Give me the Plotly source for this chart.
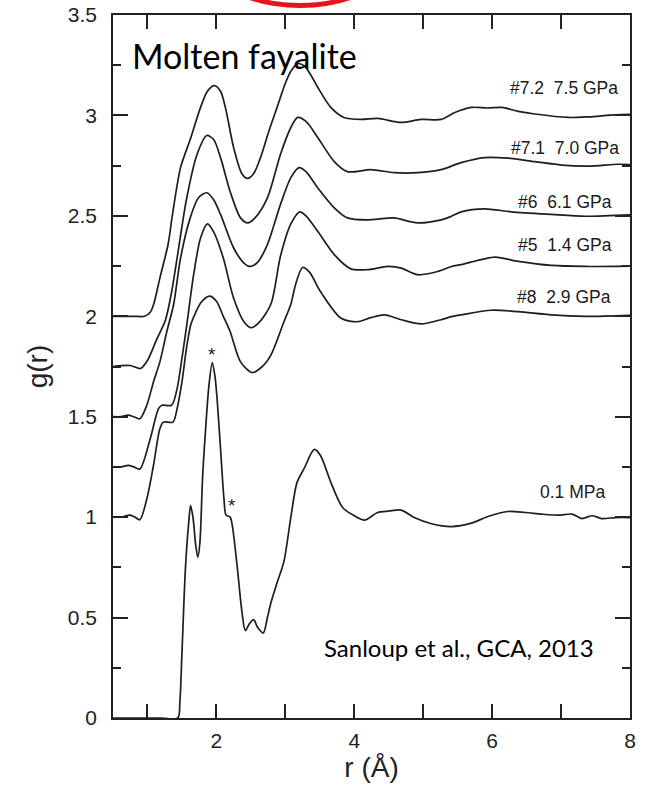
import plotly.graph_objects as go

# ---- data: g(r) of molten fayalite (raw values, no offset) ----
r_72 = [0.5,0.8,0.96,1.04,1.09,1.18,1.3,1.36,1.48,1.62,1.77,1.87,1.97,2.06,2.13,2.25,2.37,2.45,2.54,2.64,2.76,2.88,3.0,3.08,3.18,3.28,3.38,3.47,3.66,3.85,4.1,4.34,4.68,4.97,5.26,5.46,5.7,5.94,6.14,6.38,6.62,7.11,7.4,7.78,8.0]
g_72 = [0,0,0,0.02,0.06,0.19,0.36,0.5,0.74,0.88,1.04,1.12,1.148,1.12,1.04,0.84,0.71,0.687,0.71,0.79,0.92,1.04,1.16,1.22,1.258,1.245,1.195,1.14,1.04,0.99,0.98,0.985,0.965,0.98,0.98,1.015,1.04,1.037,1.04,1.02,1.007,0.99,0.993,1.003,1.005]

r_71 = [0.5,0.75,0.9,1.0,1.14,1.26,1.35,1.43,1.57,1.72,1.86,1.96,2.06,2.2,2.35,2.455,2.56,2.74,2.93,3.08,3.18,3.3,3.47,3.71,3.9,4.24,4.58,4.92,5.26,5.55,5.89,6.23,6.62,7.01,7.4,7.83,8.0]
g_71 = [0,0.005,-0.01,0.03,0.14,0.23,0.37,0.54,0.84,1.057,1.15,1.13,1.04,0.87,0.74,0.715,0.74,0.84,1.057,1.19,1.24,1.22,1.14,1.02,0.97,0.98,0.965,0.965,0.98,1.015,1.04,1.037,1.02,1.003,0.998,1.007,1.005]

r_6 = [0.5,0.62,0.72,0.8,0.89,0.99,1.087,1.18,1.28,1.38,1.48,1.62,1.74,1.86,1.96,2.06,2.25,2.4,2.495,2.6,2.74,2.93,3.08,3.2,3.3,3.47,3.71,3.9,4.19,4.44,4.58,4.92,5.26,5.41,5.55,5.89,6.28,6.86,7.35,8.0]
g_6 = [0,0,0.008,0,-0.01,0.057,0.173,0.273,0.423,0.56,0.79,0.99,1.09,1.115,1.08,1.007,0.84,0.765,0.748,0.77,0.857,1.057,1.19,1.24,1.22,1.14,1.04,0.99,0.98,0.987,0.99,0.965,0.98,0.998,1.02,1.035,1.02,1.007,0.998,1.005]

r_5 = [0.5,0.62,0.72,0.8,0.89,1.04,1.16,1.21,1.35,1.43,1.5,1.57,1.67,1.77,1.87,1.96,2.1,2.25,2.4,2.505,2.62,2.79,2.93,3.08,3.21,3.3,3.47,3.71,3.95,4.19,4.49,4.68,4.92,5.21,5.41,5.55,6.04,6.38,6.86,7.35,8.0]
g_5 = [0,0,0.008,0,-0.01,0.14,0.29,0.307,0.307,0.39,0.54,0.707,0.957,1.14,1.21,1.17,1.04,0.84,0.723,0.693,0.72,0.81,1.05,1.21,1.27,1.25,1.173,1.057,0.986,0.982,0.998,0.99,0.957,0.973,0.998,1.007,1.045,1.023,1.003,0.998,1.0]

r_8 = [0.5,0.62,0.75,0.82,0.89,0.99,1.087,1.18,1.23,1.37,1.43,1.5,1.57,1.63,1.7,1.78,1.9,2.0,2.1,2.2,2.35,2.52,2.65,2.79,2.98,3.08,3.15,3.25,3.35,3.51,3.81,4.05,4.24,4.44,4.68,4.97,5.26,5.41,5.55,5.99,6.38,6.86,7.35,8.0]
g_8 = [0,0,0.01,0,-0.013,0.09,0.257,0.44,0.473,0.473,0.54,0.673,0.85,0.96,1.02,1.07,1.1,1.075,1.0,0.923,0.773,0.72,0.745,0.807,0.973,1.06,1.16,1.243,1.22,1.123,0.99,0.973,0.993,1.007,0.983,0.962,0.983,0.998,1.007,1.03,1.023,1.007,1.0,1.005]

r_01 = [0.5,1.2,1.44,1.47,1.5,1.55,1.6,1.625,1.66,1.7,1.73,1.76,1.8,1.84,1.89,1.94,1.98,2.01,2.06,2.11,2.14,2.2,2.23,2.3,2.37,2.42,2.48,2.54,2.6,2.68,2.74,2.79,2.88,2.98,3.08,3.17,3.27,3.42,3.51,3.66,3.83,4.0,4.15,4.34,4.5,4.68,4.87,5.12,5.41,5.7,5.94,6.23,6.48,6.72,6.96,7.16,7.3,7.45,7.59,7.79,8.0]
g_01 = [0,0,0,0.08,0.32,0.74,0.98,1.057,1.0,0.86,0.8,0.87,1.2,1.42,1.65,1.77,1.7,1.59,1.34,1.09,1.01,1.0,0.96,0.76,0.53,0.435,0.47,0.49,0.45,0.423,0.5,0.573,0.673,0.78,1.0,1.173,1.24,1.337,1.307,1.173,1.048,1.007,0.985,1.023,1.03,1.035,0.998,0.967,0.953,0.97,1.003,1.028,1.023,1.015,1.01,1.015,0.993,1.007,0.993,0.998,0.998]

series_labels = ["#7.2\u00a0 7.5 GPa", "#7.1\u00a0 7.0 GPa", "#6\u00a0 6.1 GPa",
                 "#5\u00a0 1.4 GPa", "#8\u00a0 2.9 GPa", "0.1 MPa"]
series_r = [r_72, r_71, r_6, r_5, r_8, r_01]
series_g = [g_72, g_71, g_6, g_5, g_8, g_01]
offsets = [2.0, 1.75, 1.5, 1.25, 1.0, 0.0]

x_tick_vals = [1, 2, 3, 4, 5, 6, 7, 8]
x_tick_text = ["", "2", "", "4", "", "6", "", "8"]
y_tick_vals = [0, 0.5, 1, 1.5, 2, 2.5, 3, 3.5]
y_tick_text = ["0", "0.5", "1", "1.5", "2", "2.5", "3", "3.5"]

# label anchor positions (r, shifted g) for series labels
label_pos = [(7.86, 3.135), (7.87, 2.836), (7.77, 2.571), (7.77, 2.353), (7.76, 2.095), (7.67, 1.125)]
star_pos = [(1.94, 1.81), (2.22, 1.06)]

LINE = "#1e1e1e"
fig = go.Figure()
for r, g, off in zip(series_r, series_g, offsets):
    fig.add_trace(go.Scatter(
        x=r, y=[v + off for v in g], mode="lines",
        line=dict(color=LINE, width=1.7, shape="spline", smoothing=0.8),
        showlegend=False, hoverinfo="skip"))

ann = []
for (x, y), t in zip(label_pos, series_labels):
    ann.append(dict(x=x, y=y, xref="x", yref="y", text=t, showarrow=False,
                    xanchor="right", yanchor="middle",
                    font=dict(family="Liberation Sans, Arial", size=17.5, color="#1a1a1a")))
for (x, y) in star_pos:
    ann.append(dict(x=x, y=y, xref="x", yref="y", text="*", showarrow=False,
                    xanchor="center", yanchor="middle",
                    font=dict(family="Liberation Sans, Arial", size=19, color="#1a1a1a")))
ann.append(dict(x=0.032, y=0.942, xref="paper", yref="paper", text="Molten fayalite",
                showarrow=False, xanchor="left", yanchor="middle",
                font=dict(family="Lato, Open Sans", size=34, color="#000000")))
ann.append(dict(x=0.404, y=0.10, xref="paper", yref="paper", text="Sanloup et al., GCA, 2013",
                showarrow=False, xanchor="left", yanchor="middle",
                font=dict(family="Lato, Open Sans", size=24, color="#000000")))

axis_common = dict(showline=True, linecolor="#222", linewidth=1.6, mirror="allticks",
                   ticks="inside", tickcolor="#222", tickwidth=1.6, showgrid=False,
                   zeroline=False, automargin=False,
                   tickfont=dict(family="Liberation Sans, Arial", size=21, color="#222"))

fig.update_layout(
    width=650, height=788,
    margin=dict(l=113, r=20, t=15, b=70),
    paper_bgcolor="white", plot_bgcolor="white",
    annotations=ann,
    xaxis=dict(range=[0.5, 8], tickmode="array", tickvals=x_tick_vals, ticktext=x_tick_text,
               ticklen=14, ticklabelstandoff=3,
               title=dict(text="r (Å)", font=dict(family="Liberation Sans, Arial", size=28, color="#222"),
                          standoff=2),
               **axis_common),
    yaxis=dict(range=[0, 3.5], tickmode="array", tickvals=y_tick_vals, ticktext=y_tick_text,
               ticklen=15, ticklabelstandoff=10,
               minor=dict(dtick=0.25, ticklen=8, ticks="inside", tickcolor="#222", tickwidth=1.6),
               title=dict(text="g(r)", font=dict(family="Liberation Sans, Arial", size=28, color="#222"),
                          standoff=12),
               **axis_common),
    shapes=[dict(type="circle", xref="paper", yref="paper",
                 x0=(200 - 113) / 517, x1=(400 - 113) / 517,
                 y0=(718 - 5.5) / 703, y1=(718 + 115) / 703,
                 line=dict(color="#e8141b", width=5), layer="above")],
)

fig.write_html("out.html")
